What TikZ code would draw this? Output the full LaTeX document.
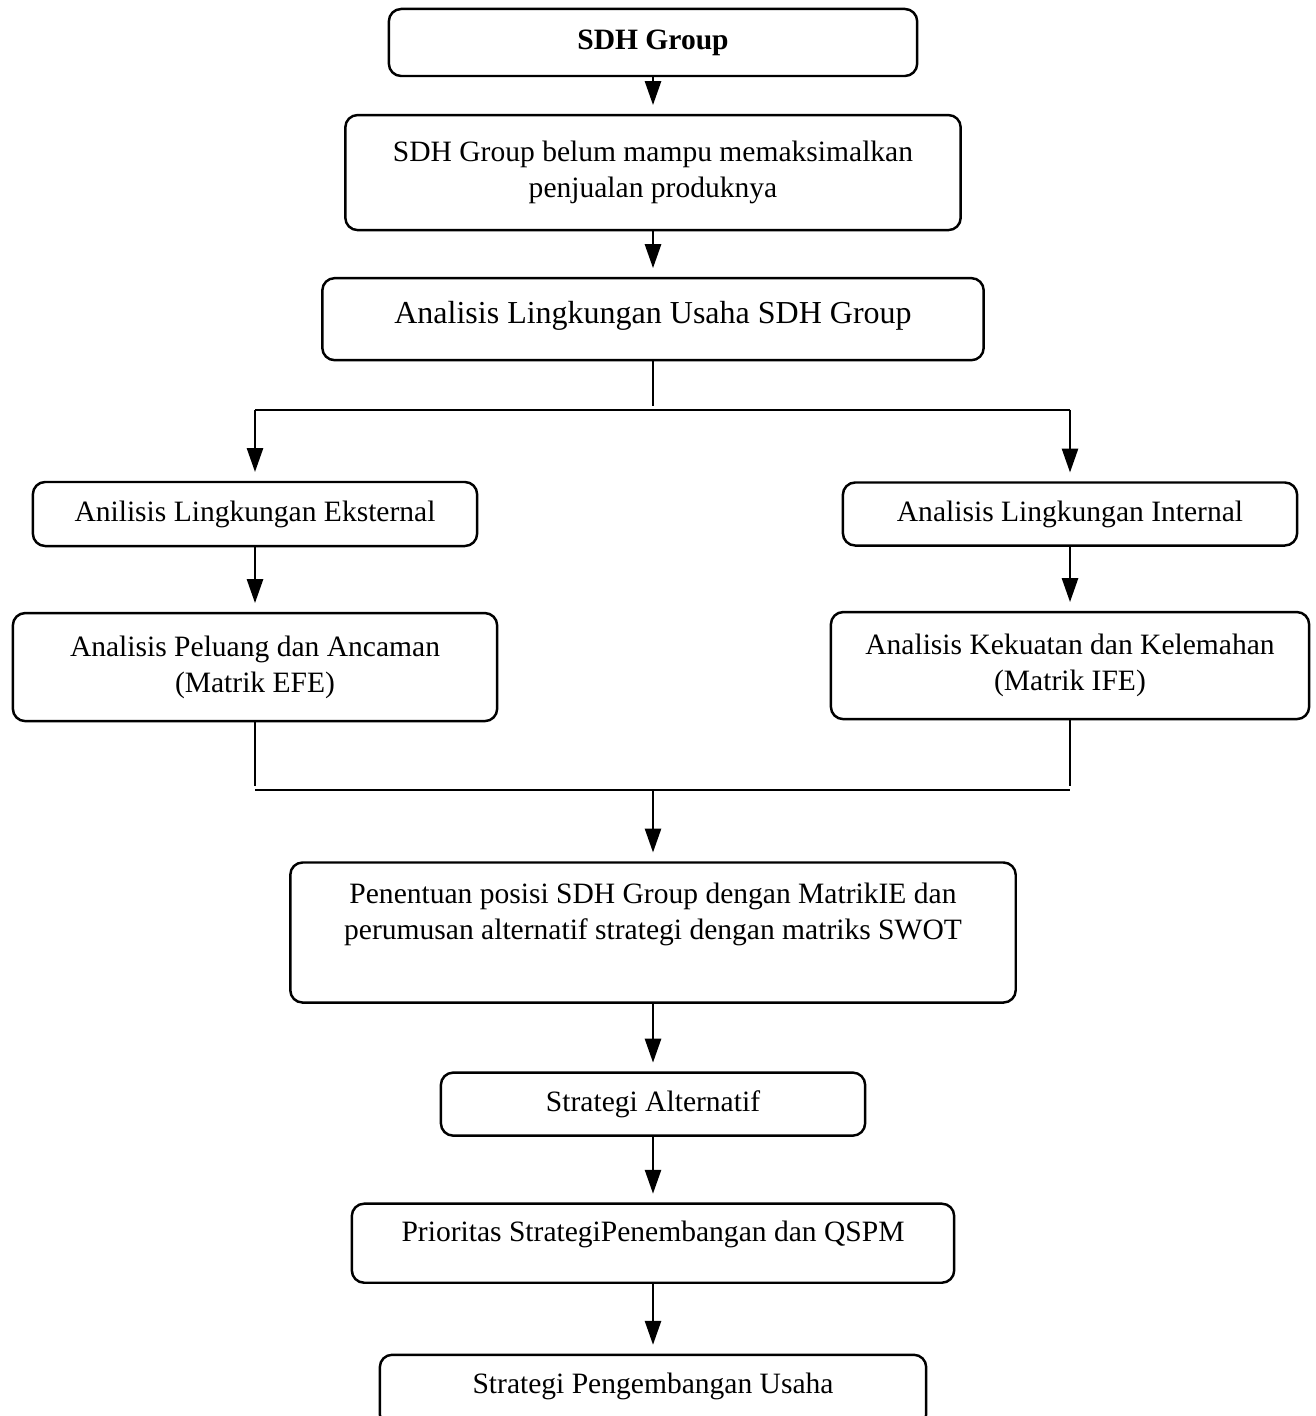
\documentclass[tikz,border=0pt]{standalone}
\usepackage{fontspec}
\setmainfont{Liberation Serif}
\usetikzlibrary{arrows.meta,positioning}

\tikzset{
  kotak/.style={draw, rounded corners=3.5pt, line width=0.7pt, inner sep=0pt, align=center, font=\fontsize{8.4}{10.2}\selectfont},
  panah/.style={-{Triangle[length=6.8pt,width=4.6pt]}, line width=0.6pt, shorten >=2.5pt},
}

\begin{document}
\begin{tikzpicture}[x=0.01cm, y=-0.01cm, line width=0.6pt, shorten >=1pt, on grid]
\path[use as bounding box] (0,0) rectangle (1315,1416);
\clip (0,0) rectangle (1315,1416);
% kolom tengah
\node[kotak, minimum width=5.28cm, minimum height=0.67cm] (sdh) at (653,42.5) {\textbf{SDH Group}};
\node[kotak, minimum width=6.15cm, minimum height=1.15cm] (masalah) [below=1.3cm of sdh] {SDH Group belum mampu memaksimalkan\\penjualan produknya};
\node[kotak, minimum width=6.61cm, minimum height=0.82cm, font=\fontsize{9.1}{11}\selectfont, text depth=3.8pt] (lingkungan) [below=1.465cm of masalah] {Analisis Lingkungan Usaha SDH Group};
% cabang kiri dan kanan
\node[kotak, minimum width=4.44cm, minimum height=0.64cm] (eksternal) at (255,514) {Anilisis Lingkungan Eksternal};
\node[kotak, minimum width=4.54cm, minimum height=0.63cm] (internal) at (1070,514) {Analisis Lingkungan Internal};
\node[kotak, minimum width=4.84cm, minimum height=1.08cm] (efe) [below=1.53cm of eksternal] {Analisis Peluang dan Ancaman\\(Matrik EFE)};
\node[kotak, minimum width=4.78cm, minimum height=1.07cm] (ife) [below=1.515cm of internal] {Analisis Kekuatan dan Kelemahan\\(Matrik IFE)};
% kolom bawah
\node[kotak, minimum width=7.25cm, minimum height=1.4cm, text width=7cm, align=flush center, text depth=22.5pt] (posisi) [below=6.13cm of lingkungan] {Penentuan posisi SDH Group dengan MatrikIE dan\\perumusan alternatif strategi dengan matriks SWOT};
\node[kotak, minimum width=4.24cm, minimum height=0.63cm] (alternatif) [below=1.715cm of posisi] {Strategi Alternatif};
\node[kotak, minimum width=6.02cm, minimum height=0.79cm, text depth=6.55pt] (prioritas) [below=1.39cm of alternatif] {Prioritas StrategiPenembangan dan QSPM};
\node[kotak, minimum width=5.46cm, minimum height=0.72cm, text depth=4.1pt] (pengembangan) [below=1.475cm of prioritas] {Strategi Pengembangan Usaha};

\coordinate (cabang) at (lingkungan |- 0,410);
\coordinate (cabangL) at (eksternal |- cabang);
\coordinate (cabangR) at (internal |- cabang);
\coordinate (gabung) at (posisi |- 0,790);
\coordinate (gabungL) at (efe |- gabung);
\coordinate (gabungR) at (ife |- gabung);

\draw[panah] (sdh) -- (masalah);
\draw[panah] (masalah) -- (lingkungan);
\draw (lingkungan) -- (cabang);
\draw[shorten >=0pt] (cabangL) -- (cabangR);
\draw[panah] (cabangL) -- (eksternal);
\draw[panah] (cabangR) -- (internal);
\draw[panah] (eksternal) -- (efe);
\draw[panah] (internal) -- (ife);
\draw (efe) -- (gabungL);
\draw (ife) -- (gabungR);
\draw[shorten >=0pt] (gabungL) -- (gabungR);
\draw[panah] (gabung) -- (posisi);
\draw[panah] (posisi) -- (alternatif);
\draw[panah] (alternatif) -- (prioritas);
\draw[panah] (prioritas) -- (pengembangan);
\end{tikzpicture}
\end{document}
